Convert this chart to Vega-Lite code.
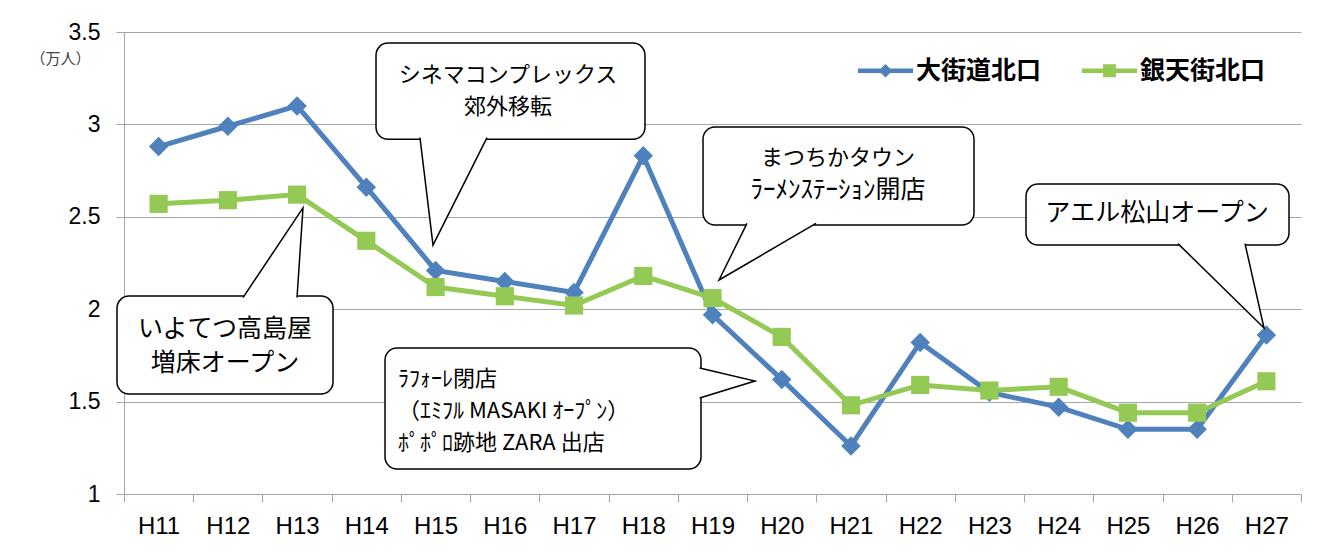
{
  "$schema": "https://vega.github.io/schema/vega-lite/v6.json",
  "autosize": {"type": "none"},
  "padding": {"left": 124, "top": 32, "right": 43, "bottom": 63},
  "width": 1177,
  "height": 462,
  "background": "white",
  "config": {"view": {"stroke": null}},
  "resolve": {"scale": {"shape": "independent", "size": "independent"}, "legend": {"color": "independent", "shape": "independent", "size": "independent"}},
  "datasets": {
    "series": [
      {"year": "H11", "i": 1, "series": "大街道北口", "value": 2.88},
      {"year": "H12", "i": 2, "series": "大街道北口", "value": 2.99},
      {"year": "H13", "i": 3, "series": "大街道北口", "value": 3.10},
      {"year": "H14", "i": 4, "series": "大街道北口", "value": 2.66},
      {"year": "H15", "i": 5, "series": "大街道北口", "value": 2.21},
      {"year": "H16", "i": 6, "series": "大街道北口", "value": 2.15},
      {"year": "H17", "i": 7, "series": "大街道北口", "value": 2.09},
      {"year": "H18", "i": 8, "series": "大街道北口", "value": 2.83},
      {"year": "H19", "i": 9, "series": "大街道北口", "value": 1.97},
      {"year": "H20", "i": 10, "series": "大街道北口", "value": 1.62},
      {"year": "H21", "i": 11, "series": "大街道北口", "value": 1.26},
      {"year": "H22", "i": 12, "series": "大街道北口", "value": 1.82},
      {"year": "H23", "i": 13, "series": "大街道北口", "value": 1.55},
      {"year": "H24", "i": 14, "series": "大街道北口", "value": 1.47},
      {"year": "H25", "i": 15, "series": "大街道北口", "value": 1.35},
      {"year": "H26", "i": 16, "series": "大街道北口", "value": 1.35},
      {"year": "H27", "i": 17, "series": "大街道北口", "value": 1.86},
      {"year": "H11", "i": 1, "series": "銀天街北口", "value": 2.57},
      {"year": "H12", "i": 2, "series": "銀天街北口", "value": 2.59},
      {"year": "H13", "i": 3, "series": "銀天街北口", "value": 2.62},
      {"year": "H14", "i": 4, "series": "銀天街北口", "value": 2.37},
      {"year": "H15", "i": 5, "series": "銀天街北口", "value": 2.12},
      {"year": "H16", "i": 6, "series": "銀天街北口", "value": 2.07},
      {"year": "H17", "i": 7, "series": "銀天街北口", "value": 2.02},
      {"year": "H18", "i": 8, "series": "銀天街北口", "value": 2.18},
      {"year": "H19", "i": 9, "series": "銀天街北口", "value": 2.06},
      {"year": "H20", "i": 10, "series": "銀天街北口", "value": 1.85},
      {"year": "H21", "i": 11, "series": "銀天街北口", "value": 1.48},
      {"year": "H22", "i": 12, "series": "銀天街北口", "value": 1.59},
      {"year": "H23", "i": 13, "series": "銀天街北口", "value": 1.56},
      {"year": "H24", "i": 14, "series": "銀天街北口", "value": 1.58},
      {"year": "H25", "i": 15, "series": "銀天街北口", "value": 1.44},
      {"year": "H26", "i": 16, "series": "銀天街北口", "value": 1.44},
      {"year": "H27", "i": 17, "series": "銀天街北口", "value": 1.61}
    ],
    "boxes": [
      {"box": "c1", "x1": 4.14, "x2": 8.025, "y1": 3.44, "y2": 2.92},
      {"box": "c2", "x1": 8.863, "x2": 12.777, "y1": 2.986, "y2": 2.456},
      {"box": "c3", "x1": 13.528, "x2": 17.327, "y1": 2.677, "y2": 2.347},
      {"box": "c4", "x1": 0.399, "x2": 3.519, "y1": 2.071, "y2": 1.541},
      {"box": "c5", "x1": 4.27, "x2": 8.834, "y1": 1.79, "y2": 1.135}
    ],
    "tails": [
      {"box": "c1", "k": 1, "x": 4.775, "y": 2.928},
      {"box": "c1", "k": 2, "x": 4.963, "y": 2.347},
      {"box": "c1", "k": 3, "x": 5.743, "y": 2.928},
      {"box": "c2", "k": 1, "x": 9.498, "y": 2.464},
      {"box": "c2", "k": 2, "x": 9.094, "y": 2.158},
      {"box": "c2", "k": 3, "x": 10.495, "y": 2.464},
      {"box": "c3", "k": 1, "x": 15.723, "y": 2.355},
      {"box": "c3", "k": 2, "x": 16.966, "y": 1.898},
      {"box": "c3", "k": 3, "x": 16.691, "y": 2.355},
      {"box": "c4", "k": 1, "x": 2.219, "y": 2.063},
      {"box": "c4", "k": 2, "x": 3.085, "y": 2.548},
      {"box": "c4", "k": 3, "x": 2.999, "y": 2.063},
      {"box": "c5", "k": 1, "x": 8.814, "y": 1.682},
      {"box": "c5", "k": 2, "x": 9.614, "y": 1.611},
      {"box": "c5", "k": 3, "x": 8.814, "y": 1.519}
    ],
    "notes": [
      {"box": "c1", "line": 1, "x": 6.046, "y": 3.267, "text": "シネマコンプレックス"},
      {"box": "c1", "line": 2, "x": 6.046, "y": 3.094, "text": "郊外移転"},
      {"box": "c2", "line": 1, "x": 10.813, "y": 2.818, "text": "まつちかタウン"},
      {"box": "c2", "line": 2, "x": 10.813, "y": 2.645, "text": "ﾗｰﾒﾝｽﾃｰｼｮﾝ開店"},
      {"box": "c3", "line": 1, "x": 15.42, "y": 2.521, "text": "アエル松山オープン"},
      {"box": "c4", "line": 1, "x": 1.959, "y": 1.893, "text": "いよてつ高島屋"},
      {"box": "c4", "line": 2, "x": 1.959, "y": 1.708, "text": "増床オープン"},
      {"box": "c5", "line": 1, "x": 4.458, "y": 1.622, "text": "ﾗﾌｫｰﾚ閉店"},
      {"box": "c5", "line": 2, "x": 4.458, "y": 1.449, "text": "（ｴﾐﾌﾙ MASAKI ｵｰﾌﾟﾝ）"},
      {"box": "c5", "line": 3, "x": 4.458, "y": 1.276, "text": "ﾎﾟﾎﾟﾛ跡地 ZARA 出店"}
    ]
  },
  "layer": [
    {
      "data": {"name": "series"},
      "mark": {"type": "line", "strokeWidth": 5},
      "encoding": {
        "x": {
          "field": "i", "type": "quantitative",
          "scale": {"domain": [0.5, 17.5], "nice": false, "zero": false},
          "axis": {
            "title": null,
            "values": [0.5, 1.5, 2.5, 3.5, 4.5, 5.5, 6.5, 7.5, 8.5, 9.5, 10.5, 11.5, 12.5, 13.5, 14.5, 15.5, 16.5, 17.5],
            "labelExpr": "datum.value < 17 ? 'H' + (datum.value + 10.5) : ''",
            "labelOffset": 34.6,
            "labelFlush": false,
            "labelOverlap": false,
            "labelAlign": "center",
            "labelFont": "Liberation Sans",
            "labelFontSize": 24,
            "labelColor": "black",
            "labelPadding": 12,
            "tickSize": 8,
            "tickColor": "#a6a6a6",
            "domainColor": "#a6a6a6",
            "grid": false
          }
        },
        "y": {
          "field": "value", "type": "quantitative",
          "scale": {"domain": [1, 3.5], "nice": false, "zero": false},
          "axis": {
            "title": "（万人）",
            "titleAngle": 0,
            "titleX": -64,
            "titleY": 26,
            "titleAlign": "center",
            "titleBaseline": "middle",
            "titleFont": "Noto Sans CJK JP",
            "titleFontSize": 15,
            "titleFontWeight": "normal",
            "titleColor": "#404040",
            "values": [1, 1.5, 2, 2.5, 3, 3.5],
            "format": "~g",
            "labelFont": "Liberation Sans",
            "labelFontSize": 23,
            "labelColor": "black",
            "labelPadding": 16,
            "tickSize": 8,
            "tickColor": "#a6a6a6",
            "domainColor": "#a6a6a6",
            "grid": true,
            "gridColor": "#a6a6a6",
            "gridWidth": 1
          }
        },
        "color": {
          "field": "series", "type": "nominal",
          "scale": {"domain": ["大街道北口", "銀天街北口"], "range": ["#4f81bd", "#94c955"]},
          "legend": null
        },
        "detail": {"field": "series"}
      }
    },
    {
      "data": {"name": "series"},
      "mark": {"type": "point", "filled": true, "opacity": 1},
      "encoding": {
        "x": {"field": "i", "type": "quantitative"},
        "y": {"field": "value", "type": "quantitative"},
        "color": {"field": "series", "type": "nominal", "legend": null},
        "shape": {
          "field": "series", "type": "nominal",
          "scale": {"domain": ["大街道北口", "銀天街北口"], "range": ["diamond", "square"]},
          "legend": null
        },
        "size": {
          "field": "series", "type": "nominal",
          "scale": {"domain": ["大街道北口", "銀天街北口"], "range": [380, 330]},
          "legend": null
        }
      }
    },
    {
      "data": {"name": "series"},
      "transform": [{"filter": "false"}],
      "mark": {"type": "point", "filled": true, "opacity": 1},
      "encoding": {
        "x": {"field": "i", "type": "quantitative"},
        "y": {"field": "value", "type": "quantitative"},
        "color": {
          "field": "series", "type": "nominal",
          "legend": {
            "title": null,
            "orient": "none",
            "legendX": 749,
            "legendY": 26,
            "direction": "horizontal",
            "symbolSize": 256,
            "symbolStrokeWidth": 0,
            "symbolOpacity": 1,
            "labelFont": "Noto Sans CJK JP",
            "labelFontSize": 25,
            "labelFontWeight": "bold",
            "labelColor": "black",
            "labelOffset": 18,
            "columnPadding": 39
          }
        },
        "shape": {
          "field": "series", "type": "nominal",
          "scale": {
            "domain": ["大街道北口", "銀天街北口"],
            "range": [
              "M-3.45,-0.27H3.45V0.27H-3.45Z M0,-0.85L0.85,0L0,0.85L-0.85,0Z",
              "M-3.45,-0.27H3.45V0.27H-3.45Z M-0.8,-0.8H0.8V0.8H-0.8Z"
            ]
          },
          "legend": null
        }
      }
    },
    {
      "data": {"name": "boxes"},
      "mark": {"type": "rect", "fill": "white", "stroke": "black", "strokeWidth": 1.5, "cornerRadius": 12},
      "encoding": {
        "x": {"field": "x1", "type": "quantitative"},
        "x2": {"field": "x2"},
        "y": {"field": "y1", "type": "quantitative"},
        "y2": {"field": "y2"}
      }
    },
    {
      "data": {"name": "tails"},
      "mark": {"type": "line", "fill": "white", "stroke": "black", "strokeWidth": 1.5},
      "encoding": {
        "x": {"field": "x", "type": "quantitative"},
        "y": {"field": "y", "type": "quantitative"},
        "detail": {"field": "box"},
        "order": {"field": "k"}
      }
    },
    {
      "data": {"name": "notes"},
      "transform": [{"filter": "datum.box == 'c1' || (datum.box == 'c2' && datum.line == 1)"}],
      "mark": {"type": "text", "font": "Noto Sans CJK JP", "fontSize": 22, "color": "black", "align": "center", "baseline": "middle"},
      "encoding": {
        "x": {"field": "x", "type": "quantitative"},
        "y": {"field": "y", "type": "quantitative"},
        "text": {"field": "text"}
      }
    },
    {
      "data": {"name": "notes"},
      "transform": [{"filter": "datum.box == 'c2' && datum.line == 2"}],
      "mark": {"type": "text", "font": "Noto Sans CJK JP", "fontSize": 25, "color": "black", "align": "center", "baseline": "middle"},
      "encoding": {
        "x": {"field": "x", "type": "quantitative"},
        "y": {"field": "y", "type": "quantitative"},
        "text": {"field": "text"}
      }
    },
    {
      "data": {"name": "notes"},
      "transform": [{"filter": "datum.box == 'c3' || datum.box == 'c4'"}],
      "mark": {"type": "text", "font": "Noto Sans CJK JP", "fontSize": 25, "color": "black", "align": "center", "baseline": "middle"},
      "encoding": {
        "x": {"field": "x", "type": "quantitative"},
        "y": {"field": "y", "type": "quantitative"},
        "text": {"field": "text"}
      }
    },
    {
      "data": {"name": "notes"},
      "transform": [{"filter": "datum.box == 'c5'"}],
      "mark": {"type": "text", "font": "Noto Sans CJK JP", "fontSize": 22, "color": "black", "align": "left", "baseline": "middle"},
      "encoding": {
        "x": {"field": "x", "type": "quantitative"},
        "y": {"field": "y", "type": "quantitative"},
        "text": {"field": "text"}
      }
    }
  ]
}
